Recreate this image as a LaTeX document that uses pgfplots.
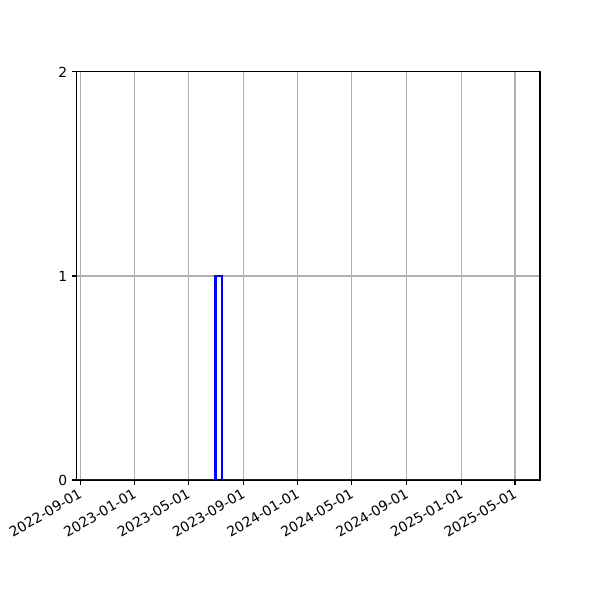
\documentclass[border=0pt]{standalone}
\usepackage{pgfplots}
\pgfplotsset{compat=1.18}
\usepackage{fontspec}
\setmainfont{DejaVu Sans}
\begin{document}
\begin{tikzpicture}[x=1pt,y=1pt]
\begin{axis}[
  name=ax,
  scale only axis,
  width=333.4pt, height=293.8pt,
  xmin=-7, xmax=1029,
  ymin=0, ymax=2,
  ytick={0,1,2},
  xtick={0,122,242,365,487,608,731,853,973},
  xticklabels={2022-09-01,2023-01-01,2023-05-01,2023-09-01,2024-01-01,2024-05-01,2024-09-01,2025-01-01,2025-05-01},
  xticklabel style={rotate=30, anchor=north east, inner sep=1pt, xshift=-1.5pt, font=\fontsize{10}{12}\selectfont},
  yticklabel style={font=\fontsize{10}{12}\selectfont},
  /pgf/number format/assume math mode=true,
  tick align=outside,
  xtick pos=bottom, ytick pos=left,
  major tick length=3.5pt,
  tick style={black, line width=0.8pt},
  axis line style={line width=0.8pt},
  grid=major,
  grid style={color=black!31, line width=0.8pt},
]
\addplot[blue, line width=1.5pt, mark=none] coordinates {
  (-7,0) (303,0) (303,1) (317,1) (317,0) (1029,0)
};
\end{axis}
\pgfresetboundingbox
\path ([shift={(-55.4pt,-86.4pt)}]ax.south west) rectangle ([shift={(43.2pt,51.8pt)}]ax.north east);
\end{tikzpicture}
\end{document}
